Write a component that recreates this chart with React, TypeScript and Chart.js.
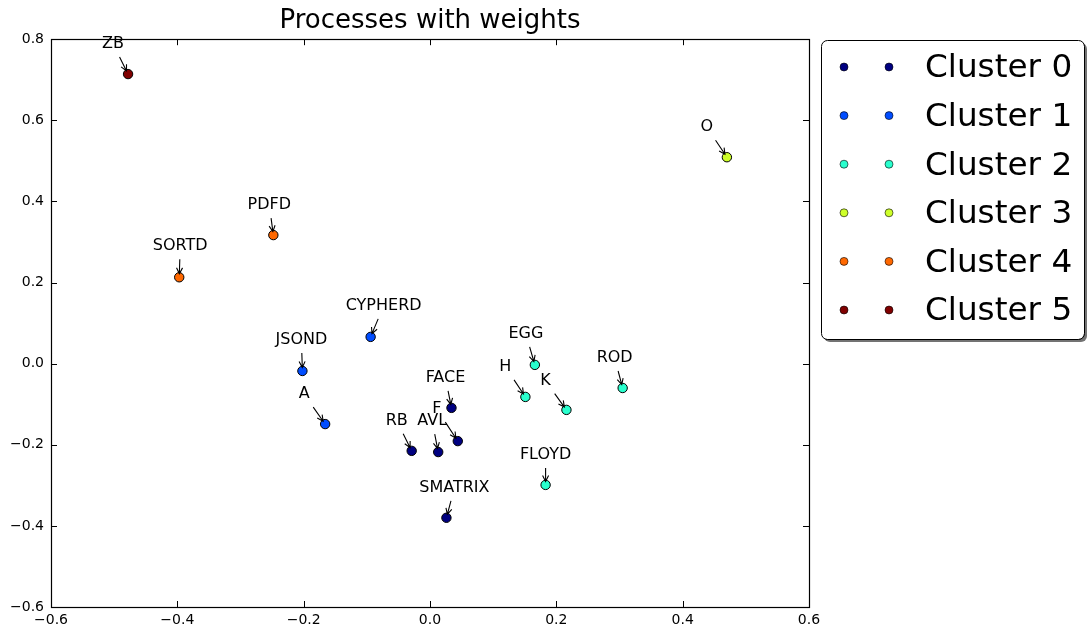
import React, { useEffect, useRef } from 'react';
import { Chart, registerables } from 'chart.js';

Chart.register(...registerables);

// ---- data ----
const names = ['ZB', 'PDFD', 'SORTD', 'CYPHERD', 'JSOND', 'A', 'RB', 'AVL', 'F', 'FACE', 'SMATRIX', 'EGG', 'H', 'K', 'ROD', 'FLOYD', 'O'];
const xs = [-0.478, -0.248, -0.397, -0.094, -0.202, -0.166, -0.029, 0.013, 0.044, 0.034, 0.026, 0.166, 0.151, 0.216, 0.305, 0.183, 0.470];
const ys = [0.714, 0.317, 0.213, 0.066, -0.018, -0.149, -0.215, -0.218, -0.191, -0.109, -0.380, -0.003, -0.082, -0.114, -0.060, -0.299, 0.509];
const clusters = [5, 4, 4, 1, 1, 1, 0, 0, 0, 0, 0, 2, 2, 2, 2, 2, 3];
const clusterNames = ['Cluster 0', 'Cluster 1', 'Cluster 2', 'Cluster 3', 'Cluster 4', 'Cluster 5'];
const clusterColors = ['#000080', '#004dff', '#29ffce', '#ceff29', '#ff6800', '#800000'];
const xTicks = [-0.6, -0.4, -0.2, 0.0, 0.2, 0.4, 0.6];
const yTicks = [-0.6, -0.4, -0.2, 0.0, 0.2, 0.4, 0.6, 0.8];
const titleText = 'Processes with weights';

// annotation text offsets (pixels, relative to the point)
const labelDx = [-15, -4, 1, 13, -1, -21, -15, -6, -21, -6, 8, -9, -20, -21, -8, 0, -20];
const labelDy = [-30, -30, -31, -31, -31, -30, -30, -31, -32, -30, -30, -31, -30, -29, -30, -30, -30];

const FONT = '"DejaVu Sans", sans-serif';
const fmt = (v: number) => {
  const s = (Math.round(v * 10) / 10).toFixed(1);
  return s.replace('-', '\u2212').replace('\u22120.0', '0.0');
};

const annotationPlugin = {
  id: 'annotations',
  afterDatasetsDraw(chart: any) {
    const ctx = chart.ctx;
    const xS = chart.scales.x;
    const yS = chart.scales.y;
    ctx.save();
    ctx.font = `16px ${FONT}`;
    ctx.textAlign = 'center';
    ctx.textBaseline = 'middle';
    for (let i = 0; i < names.length; i++) {
      const px = xS.getPixelForValue(xs[i]);
      const py = yS.getPixelForValue(ys[i]);
      const cx = px + labelDx[i];
      const cy = py + labelDy[i];
      ctx.fillStyle = '#000';
      ctx.fillText(names[i], cx, cy);
      const w = ctx.measureText(names[i]).width;
      const hw = w / 2 + 4;
      const hh = 13;
      const dx = px - cx;
      const dy = py - cy;
      const len = Math.hypot(dx, dy);
      const ux = dx / len;
      const uy = dy / len;
      const tX = Math.abs(ux) > 1e-6 ? hw / Math.abs(ux) : Infinity;
      const tY = Math.abs(uy) > 1e-6 ? hh / Math.abs(uy) : Infinity;
      const t0 = Math.min(tX, tY);
      const t1 = len - 3.5;
      if (t1 <= t0) continue;
      const sx = cx + ux * t0;
      const sy = cy + uy * t0;
      const ex = cx + ux * t1;
      const ey = cy + uy * t1;
      ctx.strokeStyle = '#000';
      ctx.lineWidth = 1.1;
      ctx.beginPath();
      ctx.moveTo(sx, sy);
      ctx.lineTo(ex, ey);
      const hl = 6;
      const hwid = 3;
      const bx = ex - ux * hl;
      const by = ey - uy * hl;
      ctx.moveTo(bx - uy * hwid, by + ux * hwid);
      ctx.lineTo(ex, ey);
      ctx.lineTo(bx + uy * hwid, by - ux * hwid);
      ctx.stroke();
    }
    ctx.restore();
  },
};

const framePlugin = {
  id: 'frameTicks',
  afterDraw(chart: any) {
    const ctx = chart.ctx;
    const a = chart.chartArea;
    const xS = chart.scales.x;
    const yS = chart.scales.y;
    const L = 6;
    ctx.save();
    ctx.strokeStyle = '#000';
    ctx.lineWidth = 1;
    ctx.beginPath();
    for (const v of xTicks) {
      const p = Math.round(xS.getPixelForValue(v)) + 0.5;
      ctx.moveTo(p, a.bottom);
      ctx.lineTo(p, a.bottom - L);
      ctx.moveTo(p, a.top);
      ctx.lineTo(p, a.top + L);
    }
    for (const v of yTicks) {
      const p = Math.round(yS.getPixelForValue(v)) + 0.5;
      ctx.moveTo(a.left, p);
      ctx.lineTo(a.left + L, p);
      ctx.moveTo(a.right, p);
      ctx.lineTo(a.right - L, p);
    }
    ctx.stroke();
    ctx.lineWidth = 1.2;
    ctx.strokeRect(Math.round(a.left) + 0.5, Math.round(a.top) + 0.5, Math.round(a.right - a.left), Math.round(a.bottom - a.top));
    ctx.restore();
  },
};

const legendPlugin = {
  id: 'clusterLegend',
  afterDraw(chart: any) {
    const ctx = chart.ctx;
    const a = chart.chartArea;
    const bx = a.right + 12;
    const by = 40;
    const bw = 263;
    const bh = 299;
    const r = 6;
    const rr = (x: number, y: number) => {
      ctx.beginPath();
      ctx.roundRect(x, y, bw, bh, r);
    };
    ctx.save();
    ctx.fillStyle = 'rgba(90,90,90,0.85)';
    rr(bx + 3, by + 3);
    ctx.fill();
    ctx.fillStyle = '#fff';
    rr(bx, by);
    ctx.fill();
    ctx.strokeStyle = '#000';
    ctx.lineWidth = 1;
    rr(bx + 0.5, by + 0.5);
    ctx.stroke();
    ctx.font = `32.7px ${FONT}`;
    ctx.textAlign = 'left';
    ctx.textBaseline = 'middle';
    for (let i = 0; i < clusterNames.length; i++) {
      const y = by + 27 + i * 48.6;
      for (const mx of [bx + 23, bx + 68]) {
        ctx.beginPath();
        ctx.arc(mx, y, 4, 0, Math.PI * 2);
        ctx.fillStyle = clusterColors[i];
        ctx.fill();
        ctx.lineWidth = 0.6;
        ctx.strokeStyle = '#000';
        ctx.stroke();
      }
      ctx.fillStyle = '#000';
      ctx.fillText(clusterNames[i], bx + 104, y + 2);
    }
    ctx.restore();
  },
};

export default function App() {
  const ref = useRef<HTMLCanvasElement | null>(null);
  useEffect(() => {
    if (!ref.current) return;
    Chart.defaults.font.family = FONT;
    const datasets = clusterNames.map((name, c) => ({
      label: name,
      data: xs
        .map((x, i) => ({ x, y: ys[i], c: clusters[i] }))
        .filter((p) => p.c === c)
        .map((p) => ({ x: p.x, y: p.y })),
      backgroundColor: clusterColors[c],
      borderColor: '#000',
      borderWidth: 1,
      pointRadius: 4.7,
      pointHoverRadius: 4.7,
    }));
    const chart = new Chart(ref.current, {
      type: 'scatter',
      data: { datasets },
      options: {
        animation: false,
        responsive: false,
        devicePixelRatio: 1,
        layout: { padding: { left: 0, top: 0, right: 280, bottom: 0 } },
        plugins: {
          legend: { display: false },
          tooltip: { enabled: false },
          title: {
            display: true,
            text: titleText,
            fullSize: false,
            color: '#000',
            font: { size: 26, weight: 'normal', family: FONT },
            padding: { top: 6, bottom: 2 },
          },
        },
        scales: {
          x: {
            type: 'linear',
            min: -0.6,
            max: 0.6,
            grid: { display: false, drawTicks: false },
            border: { display: false },
            afterFit: (s: any) => { s.height = 26; },
            afterBuildTicks: (s: any) => { s.ticks = xTicks.map((v) => ({ value: v })); },
            ticks: {
              autoSkip: false,
              maxRotation: 0,
              padding: 5,
              color: '#000',
              font: { size: 14, family: FONT },
              callback: (v: any) => fmt(Number(v)),
            },
          },
          y: {
            type: 'linear',
            min: -0.6,
            max: 0.8,
            grid: { display: false, drawTicks: false },
            border: { display: false },
            afterFit: (s: any) => { s.width = 51; },
            afterBuildTicks: (s: any) => { s.ticks = yTicks.map((v) => ({ value: v })); },
            ticks: {
              autoSkip: false,
              padding: 7,
              color: '#000',
              font: { size: 14, family: FONT },
              callback: (v: any) => fmt(Number(v)),
            },
          },
        },
      },
      plugins: [annotationPlugin, framePlugin, legendPlugin],
    });
    return () => chart.destroy();
  }, []);
  return (
    <div style={{ position: 'absolute', left: 0, top: 0, width: 1089, height: 633, background: '#fff' }}>
      <canvas ref={ref} width={1089} height={633} />
    </div>
  );
}
